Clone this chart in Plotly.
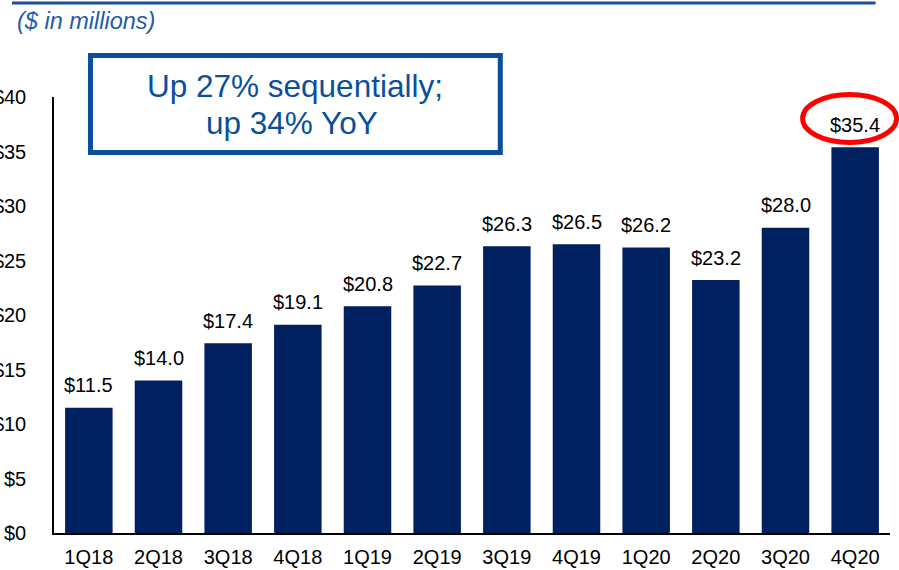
import plotly.graph_objects as go

quarters = ["1Q18", "2Q18", "3Q18", "4Q18", "1Q19", "2Q19", "3Q19", "4Q19",
            "1Q20", "2Q20", "3Q20", "4Q20"]
revenue = [11.5, 14.0, 17.4, 19.1, 20.8, 22.7, 26.3, 26.5, 26.2, 23.2, 28.0, 35.4]
ytick_vals = [0, 5, 10, 15, 20, 25, 30, 35, 40]
ytick_text = ["$0", "$5", "$10", "$15", "$20", "$25", "$30", "$35", "$40"]

W, H = 899, 570
L, R, T, B = 54, 890.4, 97, 533

def px(x):
    return (x - L) / (R - L)

def py(y):
    return (B - y) / (B - T)

FONT = "Liberation Sans, Arial, sans-serif"
NAVY = "#002060"
BLUE = "#0B4F9C"

fig = go.Figure()
fig.add_trace(go.Bar(
    x=quarters, y=revenue, marker=dict(color=NAVY, line=dict(width=0)),
    hoverinfo="skip",
))

annotations = []
for q, v in zip(quarters, revenue):
    annotations.append(dict(
        x=q, y=v, xref="x", yref="y", text=f"${v:.1f}", showarrow=False,
        yanchor="middle", xanchor="center", yshift=22.5,
        font=dict(family=FONT, size=20, color="#000000"),
    ))

annotations.append(dict(
    x=px(15), y=py(21), xref="paper", yref="paper", text="<i>($ in millions)</i>",
    showarrow=False, xanchor="left", yanchor="middle",
    font=dict(family=FONT, size=23.5, color="#1F5CA8"),
))
annotations.append(dict(
    x=px(295.5), y=py(86), xref="paper", yref="paper", text="Up 27% sequentially;",
    showarrow=False, xanchor="center", yanchor="middle",
    font=dict(family=FONT, size=31.5, color=BLUE),
))
annotations.append(dict(
    x=px(292.5), y=py(123), xref="paper", yref="paper", text="up 34% YoY",
    showarrow=False, xanchor="center", yanchor="middle",
    font=dict(family=FONT, size=31.5, color=BLUE),
))

shapes = [
    # top rule
    dict(type="line", xref="paper", yref="paper", x0=px(12), x1=px(876),
         y0=py(3), y1=py(3), line=dict(color="#1B4F95", width=3)),
    # callout box
    dict(type="rect", xref="paper", yref="paper", x0=px(90.5), x1=px(500.5),
         y0=py(55.5), y1=py(152.5), line=dict(color=BLUE, width=5),
         fillcolor="rgba(0,0,0,0)"),
    # red ellipse
    dict(type="circle", xref="paper", yref="paper", x0=px(803), x1=px(897),
         y0=py(94.5), y1=py(142.5), line=dict(color="#FF0000", width=5),
         fillcolor="rgba(0,0,0,0)"),
]

fig.update_layout(
    width=W, height=H,
    margin=dict(l=L, r=W - R, t=T, b=H - B, autoexpand=False),
    paper_bgcolor="white", plot_bgcolor="white",
    bargap=0.318, showlegend=False,
    annotations=annotations, shapes=shapes,
    font=dict(family=FONT, size=20, color="#000000"),
)
fig.update_xaxes(
    showline=True, linecolor="#000000", linewidth=2, showgrid=False,
    ticks="", tickfont=dict(family=FONT, size=20, color="#000000"),
    ticklabelstandoff=5, automargin=False, fixedrange=True,
)
fig.update_yaxes(
    range=[0, 40], tickvals=ytick_vals, ticktext=ytick_text,
    showline=True, linecolor="#000000", linewidth=1.5, showgrid=False,
    zeroline=False, ticks="", tickfont=dict(family=FONT, size=20, color="#000000"),
    ticklabelstandoff=22, automargin=False, fixedrange=True,
)

fig.write_html(
    "out.html",
    config={"displayModeBar": False},
    post_script="document.body.style.margin='0';document.body.style.overflow='hidden';",
)
